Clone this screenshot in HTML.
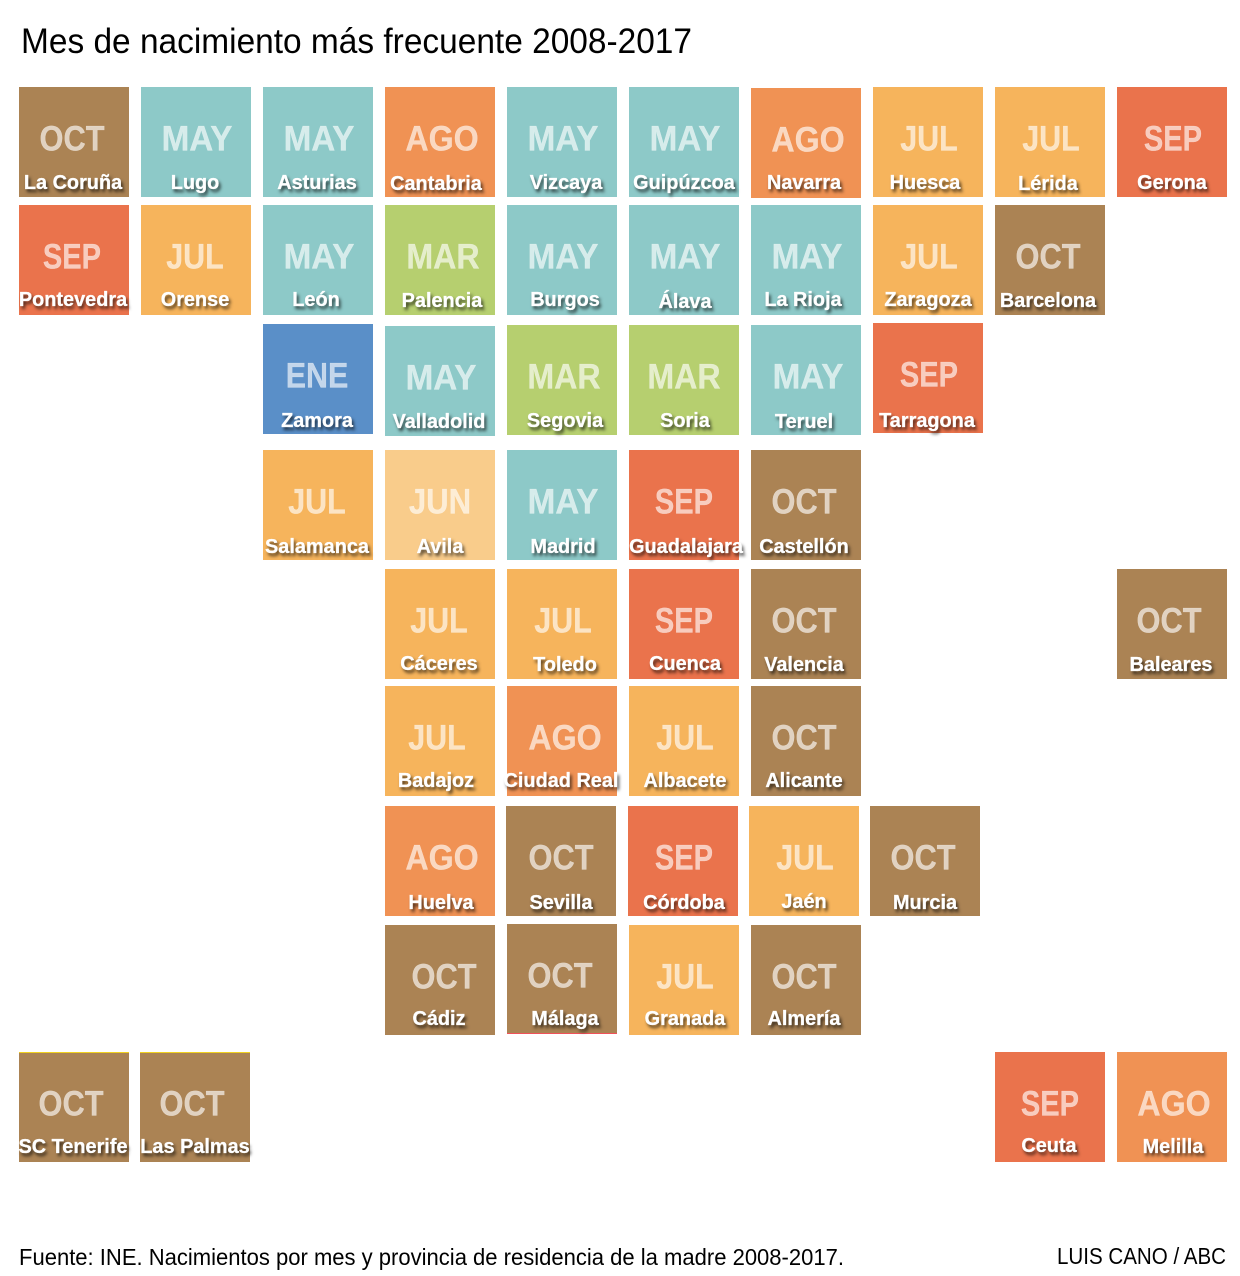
<!DOCTYPE html>
<html lang="es">
<head>
<meta charset="utf-8">
<title>Mes de nacimiento más frecuente 2008-2017</title>
<style>
  html, body { margin: 0; padding: 0; background: #fff; }
  #chart { position: relative; width: 1240px; height: 1276px; overflow: hidden; background: #fff;
           font-family: "Liberation Sans", sans-serif; }
  #text-layer { position: absolute; left: 0; top: 0; }
  .tile { position: absolute; width: 110px; height: 110px; box-sizing: border-box; }
  .month, .province { position: absolute; white-space: nowrap; font-weight: bold; line-height: 1; }
  .month { font-size: 35px; color: rgba(255,255,255,.64); -webkit-text-stroke: .3px rgba(255,255,255,.5); }
  .province { font-size: 20.5px; color: #fff; -webkit-text-stroke: .3px #fff;
              text-shadow: 2px 3px 3px rgba(0,0,0,.72);
              transform: translate(-50%,-50%) scaleX(.97); }
</style>
</head>
<body>
<div id="chart">
  <svg id="text-layer" width="1240" height="1276">
    <text x="21" y="53" font-size="35" textLength="671" lengthAdjust="spacingAndGlyphs" fill="#000" font-family="Liberation Sans, sans-serif">Mes de nacimiento más frecuente 2008-2017</text>
    <text x="19" y="1265" font-size="23.5" textLength="825" lengthAdjust="spacingAndGlyphs" fill="#000" font-family="Liberation Sans, sans-serif">Fuente: INE. Nacimientos por mes y provincia de residencia de la madre 2008-2017.</text>
    <text x="1057" y="1264" font-size="23.5" textLength="169" lengthAdjust="spacingAndGlyphs" fill="#000" font-family="Liberation Sans, sans-serif">LUIS CANO / ABC</text>
  </svg>
</div>
<script>
const provinces = ["La Coruña","Lugo","Asturias","Cantabria","Vizcaya","Guipúzcoa","Navarra","Huesca","Lérida","Gerona",
  "Pontevedra","Orense","León","Palencia","Burgos","Álava","La Rioja","Zaragoza","Barcelona",
  "Zamora","Valladolid","Segovia","Soria","Teruel","Tarragona",
  "Salamanca","Avila","Madrid","Guadalajara","Castellón",
  "Cáceres","Toledo","Cuenca","Valencia","Baleares",
  "Badajoz","Ciudad Real","Albacete","Alicante",
  "Huelva","Sevilla","Córdoba","Jaén","Murcia",
  "Cádiz","Málaga","Granada","Almería",
  "SC Tenerife","Las Palmas","Ceuta","Melilla"];
const months = ["OCT","MAY","MAY","AGO","MAY","MAY","AGO","JUL","JUL","SEP",
  "SEP","JUL","MAY","MAR","MAY","MAY","MAY","JUL","OCT",
  "ENE","MAY","MAR","MAR","MAY","SEP",
  "JUL","JUN","MAY","SEP","OCT",
  "JUL","JUL","SEP","OCT","OCT",
  "JUL","AGO","JUL","OCT",
  "AGO","OCT","SEP","JUL","OCT",
  "OCT","OCT","JUL","OCT",
  "OCT","OCT","SEP","AGO"];
const gridColumns = [0,1,2,3,4,5,6,7,8,9,
  0,1,2,3,4,5,6,7,8,
  2,3,4,5,6,7,
  2,3,4,5,6,
  3,4,5,6,9,
  3,4,5,6,
  3,4,5,6,7,
  3,4,5,6,
  0,1,8,9];
const gridRows = [0,0,0,0,0,0,0,0,0,0,
  1,1,1,1,1,1,1,1,1,
  2,2,2,2,2,2,
  3,3,3,3,3,
  4,4,4,4,4,
  5,5,5,5,
  6,6,6,6,6,
  7,7,7,7,
  8,8,8,8];

function colX(col) { return 19 + 122 * col; }
function rowY(row) { return [87,205,325,450,569,686,806,925,1052][row]; }
function monthColor(month) {
  return {OCT:"#AB8354",MAY:"#8DC9C8",AGO:"#F09254",JUL:"#F6B45C",SEP:"#EA734C",MAR:"#B6CF6F",ENE:"#5A8FC8",JUN:"#F9CC8B"}[month];
}
function monthWidthScale(month) {
  return {OCT:.88,MAY:.95,AGO:.92,JUL:.87,SEP:.83,MAR:.92,ENE:.87,JUN:.89}[month];
}

function drawTiles() {
  const rowLabelOffset = [41,40,41,42,40,40,42,39,40];
  // hand-placement offsets: month dx, province dx, tile dx, tile dy, month dy, province dy
  const nudges = {
    "La Coruña":[-2,-1],"Lugo":[1,-1],"Asturias":[1,-1],"Cantabria":[2,-4,0,0,0,1],"Vizcaya":[1,4],"Guipúzcoa":[1,0],
    "Navarra":[2,-2,0,1,1,0],"Huesca":[1,-3],"Lérida":[1,-2,0,0,0,1],"Gerona":[1,0],
    "Pontevedra":[-2,-1],"Orense":[-1,-1],"León":[1,-2],"Palencia":[3,2,0,0,0,1],"Burgos":[1,3],"Álava":[1,1,0,0,0,2],
    "La Rioja":[1,-3],"Zaragoza":[1,0],"Barcelona":[-2,-2,0,0,0,1],
    "Zamora":[-1,-1,0,-1,-1,0],"Valladolid":[1,-1,0,1,1,1],"Segovia":[2,3],"Soria":[0,1],"Teruel":[2,-2,0,0,0,1],"Tarragona":[1,-1,0,-2,-2,0],
    "Salamanca":[-1,-1],"Avila":[0,0],"Madrid":[1,1],"Guadalajara":[0,2],"Castellón":[-2,-2],
    "Cáceres":[-1,-1],"Toledo":[1,3,0,0,0,1],"Cuenca":[0,1],"Valencia":[-2,-2,0,0,0,1],"Baleares":[-3,-1,0,0,0,1],
    "Badajoz":[-3,-4],"Ciudad Real":[3,-1],"Albacete":[1,1],"Alicante":[-2,-2],
    "Huelva":[2,1],"Sevilla":[-1,-1,-1,0],"Córdoba":[0,0,-1,0],"Jaén":[-1,-2,-2,0,0,-1],"Murcia":[-5,-3,-3,0],
    "Cádiz":[4,-1],"Málaga":[-2,3,0,-1,-1,0],"Granada":[1,1],"Almería":[-2,-2],
    "SC Tenerife":[-3,-1],"Las Palmas":[-4,-1,-1,0],"Ceuta":[0,-1,0,0,0,-1],"Melilla":[2,1]
  };
  const edgeLines = {
    "SC Tenerife":"border-top:1px solid #F2D21E;",
    "Las Palmas":"border-top:1px solid #F2D21E;",
    "Málaga":"border-bottom:1px solid #F0515A;"
  };
  const chart = document.getElementById("chart");
  const tiles = document.createDocumentFragment();
  const labels = document.createDocumentFragment();
  provinces.forEach(function (name, i) {
    const n = nudges[name] || [];
    const mdx = n[0] || 0, ldx = n[1] || 0, tdx = n[2] || 0, tdy = n[3] || 0, mdy = n[4] || 0, ldy = n[5] || 0;
    const gx = colX(gridColumns[i]) + 55;
    const gy = rowY(gridRows[i]) + 55;
    const slug = name.toLowerCase().normalize("NFD").replace(/[\u0300-\u036f]/g, "").replace(/\s+/g, "-");

    const tile = document.createElement("div");
    tile.className = "tile";
    tile.style.cssText = "left:" + (colX(gridColumns[i]) + tdx) + "px;top:" + (rowY(gridRows[i]) + tdy) +
      "px;background:" + monthColor(months[i]) + ";" + (edgeLines[name] || "");
    
    
    tiles.appendChild(tile);

    const m = document.createElement("div");
    m.className = "month";
    m.textContent = months[i];
    m.style.left = (gx + mdx) + "px";
    m.style.top = (gy - 3 + mdy) + "px";
    m.style.transform = "translate(-50%,-50%) scaleX(" + monthWidthScale(months[i]) + ")";
    
    
    labels.appendChild(m);

    const p = document.createElement("div");
    p.className = "province";
    p.textContent = name;
    p.style.left = (gx + ldx) + "px";
    p.style.top = (gy + rowLabelOffset[gridRows[i]] + ldy) + "px";
    
    
    labels.appendChild(p);
  });
  chart.appendChild(tiles);
  chart.appendChild(labels);
}
drawTiles();
</script>
</body>
</html>
